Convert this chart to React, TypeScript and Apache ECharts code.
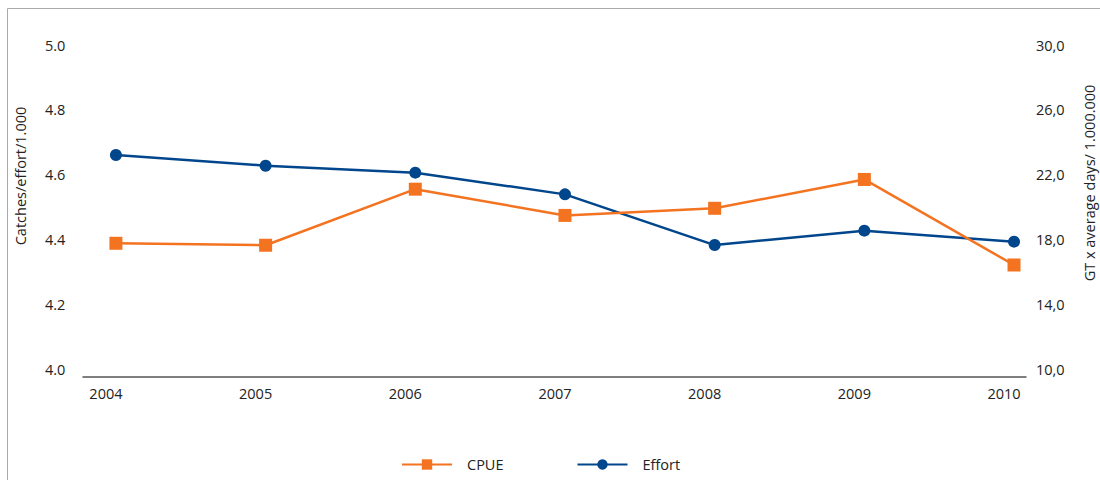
import React, { useEffect, useRef } from "react";
import * as echarts from "echarts";

const years = [2004, 2005, 2006, 2007, 2008, 2009, 2010];
const cpue = [4.388, 4.382, 4.555, 4.474, 4.496, 4.585, 4.321];
const effort = [23.21, 22.55, 22.12, 20.78, 17.65, 18.54, 17.86];
const leftTitle = "Catches/effort/1.000";
const rightTitle = "GT x average days/ 1.000.000";

const ORANGE = "#f47321";
const BLUE = "#00468c";
const TEXT = "#222222";
const FONT = "'Open Sans', 'Noto Sans', sans-serif";

export default function App() {
  const ref = useRef<HTMLDivElement>(null);
  useEffect(() => {
    if (!ref.current) return;
    const chart = echarts.init(ref.current, undefined, { renderer: "svg" });
    chart.setOption({
      animation: false,
      backgroundColor: "#ffffff",
      textStyle: { fontFamily: FONT },
      grid: { left: 83, right: 74, top: 45, bottom: 111, containLabel: false },
      xAxis: {
        type: "value",
        min: 2003.78,
        max: 2010.08,
        offset: 8,
        axisLine: { show: true, lineStyle: { color: "#555555", width: 1.5 } },
        axisTick: { show: false },
        splitLine: { show: false },
        axisLabel: {
          customValues: years,
          formatter: (v: number) => String(v),
          fontSize: 14.5,
          color: TEXT,
          fontFamily: FONT,
          margin: 9,
          padding: [0, 20, 0, 0],
        },
      },
      yAxis: [
        {
          type: "value",
          min: 4,
          max: 5,
          interval: 0.2,
          position: "left",
          axisLine: { show: false },
          axisTick: { show: false },
          splitLine: { show: false },
          axisLabel: {
            formatter: (v: number) => v.toFixed(1),
            fontSize: 14.5,
            color: TEXT,
            fontFamily: FONT,
            align: "left",
            margin: 38,
          },
        },
        {
          type: "value",
          min: 10,
          max: 30,
          interval: 4,
          position: "right",
          axisLine: { show: false },
          axisTick: { show: false },
          splitLine: { show: false },
          axisLabel: {
            formatter: (v: number) => v.toFixed(1).replace(".", ","),
            fontSize: 14.5,
            color: TEXT,
            fontFamily: FONT,
            align: "left",
            margin: 10,
          },
        },
      ],
      legend: {
        left: 396,
        top: 452,
        itemWidth: 50,
        itemHeight: 13,
        itemGap: 73,
        textStyle: { fontSize: 14.5, color: TEXT, fontFamily: FONT, padding: [0, 0, 0, 10] },
        data: ["CPUE", "Effort"],
      },
      graphic: [
        { type: "line", shape: { x1: 7.5, y1: 8.5, x2: 1100, y2: 8.5 }, style: { stroke: "#aaaaaa", lineWidth: 1 } },
        { type: "line", shape: { x1: 7.5, y1: 8.5, x2: 7.5, y2: 480 }, style: { stroke: "#aaaaaa", lineWidth: 1 } },
        {
          type: "text",
          x: 20,
          y: 176,
          rotation: Math.PI / 2,
          style: { text: leftTitle, fontSize: 14.5, fill: TEXT, fontFamily: FONT, align: "center", verticalAlign: "middle" },
        },
        {
          type: "text",
          x: 1089,
          y: 183,
          rotation: Math.PI / 2,
          style: { text: rightTitle, fontSize: 14.5, fill: TEXT, fontFamily: FONT, align: "center", verticalAlign: "middle" },
        },
      ],
      series: [
        {
          name: "CPUE",
          type: "line",
          yAxisIndex: 0,
          data: years.map((y, i) => [y, cpue[i]]),
          symbol: "rect",
          symbolSize: 13,
          lineStyle: { color: ORANGE, width: 2.5 },
          itemStyle: { color: ORANGE },
          z: 3,
        },
        {
          name: "Effort",
          type: "line",
          yAxisIndex: 1,
          data: years.map((y, i) => [y, effort[i]]),
          symbol: "circle",
          symbolSize: 12,
          lineStyle: { color: BLUE, width: 2.5 },
          itemStyle: { color: BLUE },
          z: 2,
        },
      ],
    });
    return () => chart.dispose();
  }, []);
  return (
    <div
      ref={ref}
      style={{ position: "fixed", left: 0, top: 0, width: 1100, height: 480 }}
    />
  );
}
